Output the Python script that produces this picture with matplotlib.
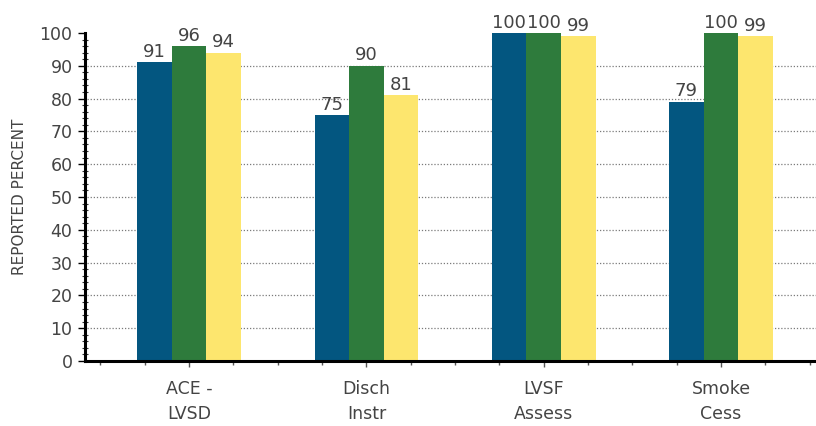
import numpy as np
import matplotlib.pyplot as plt
from matplotlib.ticker import MultipleLocator, FixedLocator

# measures and reported percentages for the three series
categories = ["ACE -\nLVSD", "Disch\nInstr", "LVSF\nAssess", "Smoke\nCess"]
series_a = [91, 75, 100, 79]
series_b = [96, 90, 100, 100]
series_c = [94, 81, 99, 99]

colors = ["#035680", "#2e7b3c", "#fde66e"]
text_color = "#444444"

fig = plt.figure(figsize=(8.16, 4.26), dpi=100)
ax = fig.add_axes([0.1042, 0.1526, 0.8958, 0.7700])

x = np.arange(len(categories))
width = 0.195

# dotted horizontal guides behind the bars
ax.hlines(range(10, 100, 10), -1, 5, colors="#7a7a7a", linestyles=(0, (1, 1.5)),
          linewidth=0.9, zorder=0)

for i, (vals, c) in enumerate(zip([series_a, series_b, series_c], colors)):
    bars = ax.bar(x + (i - 1) * width, vals, width, color=c, zorder=2)
    ax.bar_label(bars, labels=[str(v) for v in vals], padding=1,
                 fontsize=13, color=text_color)

ax.set_xlim(-0.587, 3.536)
ax.set_ylim(0, 100)

ax.spines["top"].set_visible(False)
ax.spines["right"].set_visible(False)
ax.spines["left"].set_linewidth(2.2)
ax.spines["bottom"].set_linewidth(2.2)

ax.set_yticks(range(0, 101, 10))
ax.yaxis.set_minor_locator(MultipleLocator(2))
ax.tick_params(axis="y", which="major", length=5, width=1, pad=4,
               labelsize=12.5, labelcolor=text_color)
ax.tick_params(axis="y", which="minor", direction="inout", length=4, width=0.8,
               color="#333333")

ax.set_xticks(x)
ax.set_xticklabels(categories, linespacing=1.45)
minor_x = [v for v in np.arange(-0.5, 3.6, 0.25) if abs(v - round(v)) > 0.01]
ax.xaxis.set_minor_locator(FixedLocator(minor_x))
ax.tick_params(axis="x", which="major", length=4, width=1, pad=10,
               labelsize=12.5, labelcolor=text_color, color="#555555")
ax.tick_params(axis="x", which="minor", length=3, width=1, color="#555555")

ax.set_ylabel("REPORTED PERCENT", fontsize=11, color=text_color)
ax.yaxis.set_label_coords(-0.08, 0.5)

fig.savefig("out.png", dpi=100)
